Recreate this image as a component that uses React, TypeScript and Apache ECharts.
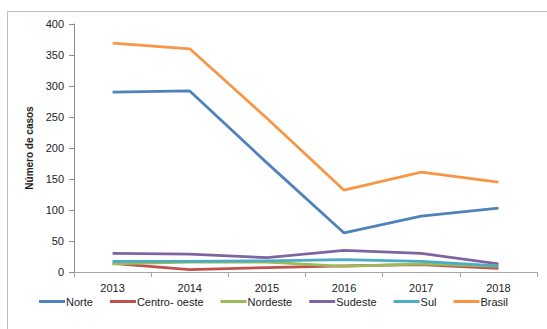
import React, { useEffect, useRef } from "react";
import * as echarts from "echarts";

const years = ["2013", "2014", "2015", "2016", "2017", "2018"];
const norte = [290, 292, 176, 63, 90, 103];
const centroOeste = [14, 4, 7, 10, 12, 6];
const nordeste = [13, 16, 16, 9, 13, 9];
const sudeste = [30, 29, 23, 35, 30, 13];
const sul = [17, 17, 18, 20, 17, 10];
const brasil = [369, 360, 248, 132, 161, 145];
const yTicks = [0, 50, 100, 150, 200, 250, 300, 350, 400];

const seriesDefs = [
  { name: "Norte", data: norte, color: "#4F81BD" },
  { name: "Centro- oeste", data: centroOeste, color: "#C0504D" },
  { name: "Nordeste", data: nordeste, color: "#9BBB59" },
  { name: "Sudeste", data: sudeste, color: "#8064A2" },
  { name: "Sul", data: sul, color: "#4BACC6" },
  { name: "Brasil", data: brasil, color: "#F79646" },
];

const FONT = "Liberation Sans";

export default function App() {
  const ref = useRef<HTMLDivElement>(null);
  useEffect(() => {
    if (!ref.current) return;
    const chart = echarts.init(ref.current, undefined, { renderer: "svg" });
    chart.setOption({
      animation: false,
      backgroundColor: "#fff",
      textStyle: { fontFamily: FONT },
      graphic: [
        {
          type: "rect",
          shape: { x: 7.5, y: 11.5, width: 700, height: 500 },
          style: { fill: "none", stroke: "#bfbfbf", lineWidth: 1 },
          silent: true,
          z: -1,
        },
      ],
      grid: { left: 74, right: 10, top: 24, bottom: 57, containLabel: false },
      legend: {
        left: "center",
        top: 291,
        icon: "rect",
        itemWidth: 26,
        itemHeight: 3,
        itemGap: 17,
        textStyle: { fontFamily: FONT, fontSize: 11, color: "#222", padding: [0, 0, 0, -4] },
        data: seriesDefs.map((s) => s.name),
      },
      xAxis: {
        type: "category",
        data: years,
        boundaryGap: true,
        axisLine: { lineStyle: { color: "#a6a6a6", width: 1 } },
        axisTick: { show: true, length: 5, lineStyle: { color: "#a6a6a6" } },
        axisLabel: { fontFamily: FONT, fontSize: 11, color: "#222", margin: 10 },
        splitLine: { show: false },
      },
      yAxis: {
        type: "value",
        min: yTicks[0],
        max: yTicks[yTicks.length - 1],
        interval: 50,
        name: "Número de casos",
        nameLocation: "middle",
        nameGap: 33,
        nameTextStyle: { fontFamily: FONT, fontSize: 10, fontWeight: "bold", color: "#222" },
        axisLine: { show: true, lineStyle: { color: "#8c8c8c", width: 1 } },
        axisTick: { show: true, length: 5, lineStyle: { color: "#8c8c8c" } },
        axisLabel: { fontFamily: FONT, fontSize: 11, color: "#222", margin: 10 },
        splitLine: { show: false },
      },
      series: seriesDefs.map((s) => ({
        type: "line",
        name: s.name,
        data: s.data,
        symbol: "none",
        color: s.color,
        lineStyle: { width: 2.75, color: s.color },
      })),
    });
    return () => chart.dispose();
  }, []);
  return (
    <div
      ref={ref}
      style={{ position: "absolute", left: 0, top: 0, width: 547, height: 329 }}
    />
  );
}
